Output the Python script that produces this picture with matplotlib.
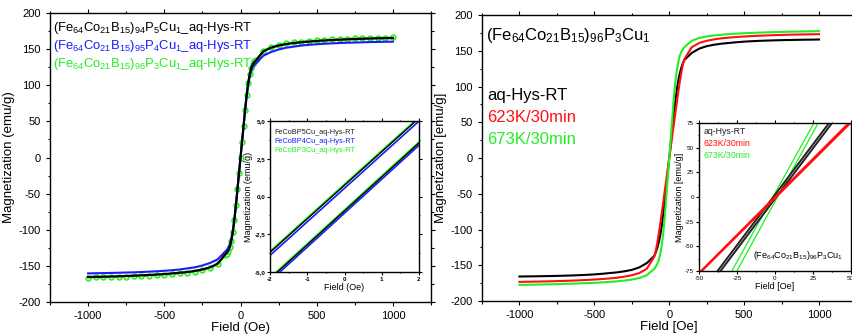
import numpy as np
import matplotlib
matplotlib.use("Agg")
import matplotlib.pyplot as plt
from matplotlib.ticker import MultipleLocator, FixedLocator, FixedFormatter

plt.rcParams['font.family'] = ['Liberation Sans', 'DejaVu Sans']
plt.rcParams['mathtext.fontset'] = 'custom'
plt.rcParams['mathtext.rm'] = 'Liberation Sans'
plt.rcParams['mathtext.it'] = 'Liberation Sans:italic'
plt.rcParams['mathtext.bf'] = 'Liberation Sans:bold'
plt.rcParams['axes.unicode_minus'] = False

# --- dane: polowa petli (H >= 0), druga polowa odbita symetrycznie
field_half = [0, 10, 20, 30, 40, 50, 60, 70, 80, 90, 100, 150, 200, 250, 300, 350, 400,
              450, 500, 550, 600, 650, 700, 750, 800, 850, 900, 950, 1000]

# lewy wykres (stan po odlaniu)
m_p5 = [0, 22, 44, 66, 86, 103, 115, 124, 129, 132, 134, 147, 152, 155, 157, 158.5, 159.5,
        160.5, 161.3, 162, 162.6, 163.1, 163.6, 164, 164.4, 164.7, 165, 165.2, 165.4]
m_p4 = [0, 22, 43, 65, 84, 100, 112, 120, 125, 128, 130, 141, 146, 149.5, 152, 153.5, 155,
        156, 156.8, 157.5, 158, 158.5, 158.9, 159.2, 159.5, 159.8, 160, 160.2, 160.4]
m_p3 = [0, 22, 44, 66, 86, 103, 115, 124, 129, 133, 135, 148, 153, 156, 158, 159.5, 160.5,
        161.5, 162.3, 163, 163.6, 164.1, 164.5, 164.9, 165.2, 165.5, 165.8, 166, 166.2]

# prawy wykres (wygrzewanie)
m_aq = [0, 20, 40, 60, 78, 95, 108, 118, 126, 132, 137, 147, 153, 156.5, 158.5, 160, 161,
        162, 162.8, 163.4, 163.9, 164.3, 164.6, 164.9, 165.1, 165.3, 165.5, 165.6, 165.8]
m_623 = [0, 15, 31, 46, 62, 77, 92, 106, 119, 130, 138, 155, 161, 164, 166, 167.5, 168.5,
         169.3, 170, 170.6, 171.1, 171.5, 171.9, 172.2, 172.5, 172.7, 172.9, 173.1, 173.3]
m_673 = [0, 28, 55, 83, 105, 122, 134, 143, 148, 152, 155, 164, 168, 170, 171.5, 172.5, 173.3,
         174, 174.6, 175, 175.4, 175.8, 176.1, 176.4, 176.7, 176.9, 177.1, 177.3, 177.5]

# wstawka lewa: galezie petli w zakresie -2..2 Oe
inset_left_field = [-2, 2]
ins_p5_down = [-3.7, 5.2]
ins_p5_up = [-5.45, 3.55]
ins_p4_down = [-3.9, 5.0]
ins_p4_up = [-5.6, 3.4]
ins_p3_down = [-3.65, 5.25]
ins_p3_up = [-5.4, 3.6]

# wstawka prawa: galezie petli w zakresie -50..50 Oe
inset_right_field = [-50, 50]
ins_aq_down = [-100, 104]
ins_aq_up = [-104, 100]
ins_623_down = [-77, 77]
ins_623_up = [-78, 75]
ins_673_down = [-135, 142]
ins_673_up = [-145, 135]

left_labels = [r'(Fe$_{64}$Co$_{21}$B$_{15}$)$_{94}$P$_5$Cu$_1$_aq-Hys-RT',
               r'(Fe$_{64}$Co$_{21}$B$_{15}$)$_{95}$P$_4$Cu$_1$_aq-Hys-RT',
               r'(Fe$_{64}$Co$_{21}$B$_{15}$)$_{96}$P$_3$Cu$_1$_aq-Hys-RT']
left_inset_labels = ['FeCoBP5Cu_aq-Hys-RT', 'FeCoBP4Cu_aq-Hys-RT', 'FeCoBP3Cu_aq-Hys-RT']
right_labels = ['aq-Hys-RT', '623K/30min', '673K/30min']
right_title = r'(Fe$_{64}$Co$_{21}$B$_{15}$)$_{96}$P$_3$Cu$_1$'

GREEN = '#22ee22'


def full_loop(h, m):
    h = np.array(h, dtype=float)
    m = np.array(m, dtype=float)
    return np.concatenate([-h[::-1], h[1:]]), np.concatenate([-m[::-1], m[1:]])


def style_axes(ax, fs):
    ax.tick_params(which='both', direction='out', top=True, right=True,
                   labeltop=False, labelright=False, labelsize=fs, width=0.8)
    ax.tick_params(which='major', length=3)
    ax.tick_params(which='minor', length=1.8)
    for s in ax.spines.values():
        s.set_linewidth(1.0)


fig = plt.figure(figsize=(8.52, 3.36), dpi=100)

# ---------------- lewy wykres
ax1 = fig.add_axes([0.0587, 0.1012, 0.4472, 0.860])
h, m = full_loop(field_half, m_p3)
ax1.plot(h, m, color=GREEN, lw=1.3, marker='o', ms=3.6, mfc='#b8f5a8', mec=GREEN, mew=1.0)
h, m = full_loop(field_half, m_p4)
ax1.plot(h, m, color='#1a1aff', lw=1.5)
h, m = full_loop(field_half, m_p5)
ax1.plot(h, m, color='black', lw=1.6)
ax1.set_xlim(-1250, 1250)
ax1.set_ylim(-200, 200)
ax1.xaxis.set_major_locator(MultipleLocator(500))
ax1.xaxis.set_minor_locator(MultipleLocator(250))
ax1.yaxis.set_major_locator(MultipleLocator(50))
ax1.yaxis.set_minor_locator(MultipleLocator(25))
style_axes(ax1, 8)
ax1.set_xlabel('Field (Oe)', fontsize=9.5, labelpad=1)
ax1.set_ylabel('Magnetization (emu/g)', fontsize=9.5)
ax1.yaxis.set_label_coords(-0.092, 0.5)
for i, (lab, col) in enumerate(zip(left_labels, ['black', '#1a1aff', GREEN])):
    ax1.text(0.008, 0.975 - i * 0.062, lab, color=col, fontsize=9.4,
             transform=ax1.transAxes, va='top', ha='left')

# wstawka lewa
ax1i = fig.add_axes([0.3169, 0.1905, 0.1749, 0.449])
ax1i.plot(inset_left_field, ins_p3_down, color=GREEN, lw=1.6)
ax1i.plot(inset_left_field, ins_p3_up, color=GREEN, lw=1.6)
ax1i.plot(inset_left_field, ins_p4_down, color='#1a1aff', lw=1.2)
ax1i.plot(inset_left_field, ins_p4_up, color='#1a1aff', lw=1.2)
ax1i.plot(inset_left_field, ins_p5_down, color='black', lw=1.0)
ax1i.plot(inset_left_field, ins_p5_up, color='black', lw=1.0)
ax1i.set_xlim(-2, 2)
ax1i.set_ylim(-5, 5)
ax1i.xaxis.set_major_locator(MultipleLocator(1))
ax1i.xaxis.set_minor_locator(MultipleLocator(0.5))
ax1i.yaxis.set_major_locator(FixedLocator([-5, -2.5, 0, 2.5, 5]))
ax1i.yaxis.set_major_formatter(FixedFormatter(['-5,0', '-2,5', '0,0', '2,5', '5,0']))
ax1i.yaxis.set_minor_locator(MultipleLocator(1.25))
style_axes(ax1i, 4.5)
ax1i.tick_params(which='major', length=2, pad=1.5)
ax1i.tick_params(which='minor', length=1)
for t in ax1i.get_xticklabels() + ax1i.get_yticklabels():
    t.set_fontweight('bold')
ax1i.set_xlabel('Field (Oe)', fontsize=6.5, labelpad=1)
ax1i.set_ylabel('Magnetization (emu/g)', fontsize=6.5, labelpad=1)
for i, (lab, col) in enumerate(zip(left_inset_labels, ['#222222', '#1a1aff', GREEN])):
    ax1i.text(0.03, 0.95 - i * 0.06, lab, color=col, fontsize=5.3,
              transform=ax1i.transAxes, va='top', ha='left')

# ---------------- prawy wykres
ax2 = fig.add_axes([0.5657, 0.1042, 0.4396, 0.851])
h, m = full_loop(field_half, m_aq)
ax2.plot(h, m, color='black', lw=1.5)
h, m = full_loop(field_half, m_623)
ax2.plot(h, m, color='#ff1010', lw=1.5)
h, m = full_loop(field_half, m_673)
ax2.plot(h, m, color=GREEN, lw=1.5)
ax2.set_xlim(-1250, 1250)
ax2.set_ylim(-200, 200)
ax2.xaxis.set_major_locator(MultipleLocator(500))
ax2.xaxis.set_minor_locator(MultipleLocator(250))
ax2.yaxis.set_major_locator(MultipleLocator(50))
ax2.yaxis.set_minor_locator(MultipleLocator(25))
style_axes(ax2, 8)
ax2.set_xlabel('Field [Oe]', fontsize=9.5, labelpad=1)
ax2.set_ylabel('Magnetization [emu/g]', fontsize=9.5)
ax2.yaxis.set_label_coords(-0.093, 0.5)
ax2.text(0.01, 0.96, right_title, fontsize=12, transform=ax2.transAxes, va='top', ha='left')
for i, (lab, col) in enumerate(zip(right_labels, ['black', '#ff1010', GREEN])):
    ax2.text(0.013, 0.745 - i * 0.077, lab, color=col, fontsize=12,
             transform=ax2.transAxes, va='top', ha='left')

# wstawka prawa
ax2i = fig.add_axes([0.8204, 0.1935, 0.178, 0.4405])
ax2i.plot(inset_right_field, ins_673_down, color=GREEN, lw=0.9)
ax2i.plot(inset_right_field, ins_673_up, color=GREEN, lw=0.9)
ax2i.plot(inset_right_field, ins_aq_down, color='#222222', lw=1.4)
ax2i.plot(inset_right_field, ins_aq_up, color='#222222', lw=1.4)
ax2i.plot(inset_right_field, ins_623_down, color='#ff1010', lw=1.3)
ax2i.plot(inset_right_field, ins_623_up, color='#ff1010', lw=1.3)
ax2i.set_xlim(-50, 50)
ax2i.set_ylim(-75, 75)
ax2i.xaxis.set_major_locator(MultipleLocator(25))
ax2i.xaxis.set_minor_locator(MultipleLocator(12.5))
ax2i.yaxis.set_major_locator(MultipleLocator(25))
ax2i.yaxis.set_minor_locator(MultipleLocator(12.5))
style_axes(ax2i, 4.5)
ax2i.tick_params(which='major', length=2, pad=1.5)
ax2i.tick_params(which='minor', length=1)
ax2i.set_xlabel('Field [Oe]', fontsize=6.5, labelpad=1)
ax2i.set_ylabel('Magnetization [emu/g]', fontsize=6.5, labelpad=1)
for i, (lab, col) in enumerate(zip(right_labels, ['#222222', '#ff1010', GREEN])):
    ax2i.text(0.03, 0.97 - i * 0.08, lab, color=col, fontsize=6.3,
              transform=ax2i.transAxes, va='top', ha='left')
ax2i.text(0.95, 0.06, right_title, fontsize=6.5, transform=ax2i.transAxes,
          va='bottom', ha='right')

plt.savefig('out.png', dpi=100)
plt.close()
